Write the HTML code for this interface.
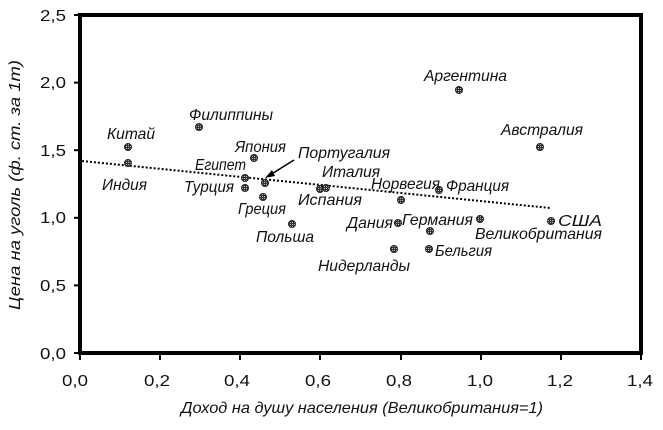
<!DOCTYPE html>
<html><head><meta charset="utf-8"><style>
html,body{margin:0;padding:0;background:#fff;}
svg{display:block;}
text{font-family:"Liberation Sans",sans-serif;fill:#111;}
.l{font-style:italic;font-size:16px;}
.t{font-size:16px;}
</style></head><body>
<svg width="663" height="430" viewBox="0 0 663 430" xmlns="http://www.w3.org/2000/svg">
<defs>
<pattern id="hp" width="2" height="2" patternUnits="userSpaceOnUse"><rect width="2" height="2" fill="#333"/><rect width="1" height="1" fill="#bbb"/></pattern>
</defs>
<rect x="80" y="15" width="561" height="338" fill="#fff" stroke="#000" stroke-width="4"/>
<g stroke="#000" stroke-width="2">
<line x1="74" y1="353" x2="80" y2="353"/><line x1="74" y1="285.4" x2="80" y2="285.4"/><line x1="74" y1="217.8" x2="80" y2="217.8"/><line x1="74" y1="150.2" x2="80" y2="150.2"/><line x1="74" y1="82.6" x2="80" y2="82.6"/><line x1="74" y1="15" x2="80" y2="15"/>
<line x1="80" y1="353" x2="80" y2="360"/><line x1="160" y1="353" x2="160" y2="360"/><line x1="240" y1="353" x2="240" y2="360"/><line x1="320" y1="353" x2="320" y2="360"/><line x1="401" y1="353" x2="401" y2="360"/><line x1="481" y1="353" x2="481" y2="360"/><line x1="561" y1="353" x2="561" y2="360"/><line x1="641" y1="353" x2="641" y2="360"/>
</g>
<g class="t" text-anchor="end">
<text x="66" y="359" textLength="26" lengthAdjust="spacingAndGlyphs">0,0</text><text x="66" y="291" textLength="26" lengthAdjust="spacingAndGlyphs">0,5</text><text x="66" y="223" textLength="26" lengthAdjust="spacingAndGlyphs">1,0</text><text x="66" y="156" textLength="26" lengthAdjust="spacingAndGlyphs">1,5</text><text x="66" y="88" textLength="26" lengthAdjust="spacingAndGlyphs">2,0</text><text x="66" y="21" textLength="26" lengthAdjust="spacingAndGlyphs">2,5</text>
</g>
<g class="t">
<text x="62" y="386" textLength="26" lengthAdjust="spacingAndGlyphs">0,0</text><text x="144" y="386" textLength="26" lengthAdjust="spacingAndGlyphs">0,2</text><text x="224" y="386" textLength="26" lengthAdjust="spacingAndGlyphs">0,4</text><text x="305" y="386" textLength="26" lengthAdjust="spacingAndGlyphs">0,6</text><text x="386" y="386" textLength="26" lengthAdjust="spacingAndGlyphs">0,8</text><text x="467" y="386" textLength="26" lengthAdjust="spacingAndGlyphs">1,0</text><text x="547" y="386" textLength="26" lengthAdjust="spacingAndGlyphs">1,2</text><text x="627" y="386" textLength="26" lengthAdjust="spacingAndGlyphs">1,4</text>
</g>
<text class="l" x="362" y="413" text-anchor="middle" textLength="362" lengthAdjust="spacingAndGlyphs">Доход на душу населения (Великобритания=1)</text>
<text class="l" transform="translate(20,185) rotate(-90)" text-anchor="middle" textLength="250" lengthAdjust="spacingAndGlyphs">Цена на уголь (ф. ст. за 1т)</text>
<line x1="82" y1="161" x2="550" y2="208" stroke="#000" stroke-width="2" stroke-dasharray="2,2"/>
<line x1="294" y1="160" x2="270" y2="175" stroke="#000" stroke-width="1.5"/>
<polygon points="265,178 272,170 275,176" fill="#000"/>
<g fill="url(#hp)" stroke="#222" stroke-width="1">
<circle cx="128" cy="147" r="3.5"/><circle cx="128" cy="163" r="3.5"/><circle cx="199" cy="127" r="3.5"/><circle cx="254" cy="158" r="3.5"/><circle cx="245" cy="178" r="3.5"/><circle cx="265" cy="183" r="3.5"/><circle cx="245" cy="188" r="3.5"/><circle cx="263" cy="197" r="3.5"/><circle cx="292" cy="224" r="3.5"/><circle cx="320" cy="189" r="3.5"/><circle cx="326" cy="188" r="3.5"/><circle cx="401" cy="200" r="3.5"/><circle cx="439" cy="190" r="3.5"/><circle cx="398" cy="223" r="3.5"/><circle cx="430" cy="231" r="3.5"/><circle cx="480" cy="219" r="3.5"/><circle cx="394" cy="249" r="3.5"/><circle cx="429" cy="249" r="3.5"/><circle cx="551" cy="221" r="3.5"/><circle cx="459" cy="90" r="3.5"/><circle cx="540" cy="147" r="3.5"/>
</g>
<g class="l">
<text x="107" y="139" textLength="48" lengthAdjust="spacingAndGlyphs">Китай</text>
<text x="102" y="190" textLength="45" lengthAdjust="spacingAndGlyphs">Индия</text>
<text x="189" y="120" textLength="84" lengthAdjust="spacingAndGlyphs">Филиппины</text>
<text x="235" y="152" textLength="51" lengthAdjust="spacingAndGlyphs">Япония</text>
<text x="195" y="170" textLength="51" lengthAdjust="spacingAndGlyphs">Египет</text>
<text x="298" y="158" textLength="92" lengthAdjust="spacingAndGlyphs">Португалия</text>
<text x="322" y="177" textLength="58" lengthAdjust="spacingAndGlyphs">Италия</text>
<text x="184" y="192" textLength="50" lengthAdjust="spacingAndGlyphs">Турция</text>
<text x="238" y="214" textLength="48" lengthAdjust="spacingAndGlyphs">Греция</text>
<text x="298" y="205" textLength="64" lengthAdjust="spacingAndGlyphs">Испания</text>
<text x="256" y="242" textLength="58" lengthAdjust="spacingAndGlyphs">Польша</text>
<text x="371" y="189" textLength="69" lengthAdjust="spacingAndGlyphs">Норвегия</text>
<text x="446" y="191" textLength="63" lengthAdjust="spacingAndGlyphs">Франция</text>
<text x="347" y="228" textLength="46" lengthAdjust="spacingAndGlyphs">Дания</text>
<text x="402" y="225" textLength="71" lengthAdjust="spacingAndGlyphs">Германия</text>
<text x="475" y="239" textLength="127" lengthAdjust="spacingAndGlyphs">Великобритания</text>
<text x="318" y="271" textLength="92" lengthAdjust="spacingAndGlyphs">Нидерланды</text>
<text x="435" y="256" textLength="57" lengthAdjust="spacingAndGlyphs">Бельгия</text>
<text x="558" y="226" textLength="44" lengthAdjust="spacingAndGlyphs">США</text>
<text x="424" y="81" textLength="83" lengthAdjust="spacingAndGlyphs">Аргентина</text>
<text x="501" y="135" textLength="82" lengthAdjust="spacingAndGlyphs">Австралия</text>
</g>
</svg>
</body></html>
